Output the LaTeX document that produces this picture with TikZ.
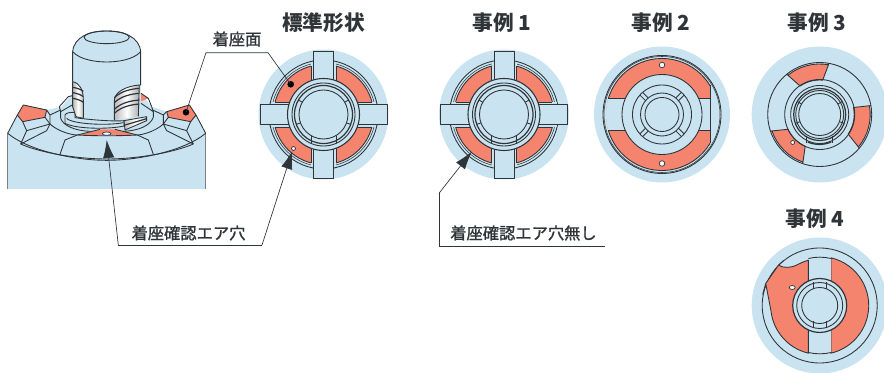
\documentclass[tikz,border=0pt]{standalone}
\usepackage{fontspec}
\setmainfont{Noto Sans CJK JP}
\newfontfamily\labfont[FakeBold=1.2]{Noto Sans CJK JP}
\usetikzlibrary{arrows.meta}
\definecolor{pale}{HTML}{C9E3F0}
\definecolor{seat}{HTML}{F5846F}
\definecolor{ink}{HTML}{2E3438}
\tikzset{
 ln/.style={draw=ink,line width=0.65pt,line join=round},
 thin ln/.style={draw=ink,line width=0.4pt},
 bluef/.style={fill=pale},
 seatf/.style={fill=seat},
 hole/.style={fill=white!70!pale,draw=ink,line width=0.5pt},
 title/.style={font=\bfseries\fontsize{15.5pt}{18pt}\selectfont,inner sep=0pt,text=ink},
 lab/.style={font=\labfont\fontsize{12.2pt}{14pt}\selectfont,inner sep=0pt,text=ink},
 leader/.style={draw=ink,line width=0.5pt},
 tip/.style={leader,-{Latex[length=13.5pt,width=8.5pt]}},
 metal/.style={left color=gray!70,right color=gray!45,middle color=white,draw=ink,line width=0.5pt}
}
% cross-shaped seat used by the standard form and case 1
\newcommand{\crossview}[2]{%
 \begin{scope}[shift={(#1,#2)}]
 \fill[pale] (0,0) circle[radius=65];
 \draw[ln] (0,0) circle[radius=54.5];
 \draw[thin ln] (0,0) circle[radius=52];
 \fill[seat] (0,0) circle[radius=50];
 \draw[ln] (0,0) circle[radius=50];
 \fill[pale] (-12.5,-52.5) rectangle (12.5,52.5);
 \fill[pale] (-52.5,-12.5) rectangle (52.5,12.5);
 \foreach \a in {0,90,180,270}{
  \begin{scope}[rotate=\a]
   \draw[ln] (12.5,-48.4) -- (12.5,-12.5) -- (48.4,-12.5);
   \draw[ln,bluef] (-10,-30) -- (-10,-63.5) -- (10,-63.5) -- (10,-30) -- cycle;
  \end{scope}}
 \draw[ln,bluef,line width=0.8pt] (0,0) circle[radius=36];
 \draw[ln] (0,0) circle[radius=31.5];
 \draw[ln,line width=0.9pt] (0,0) circle[radius=29];
 \draw[ln] (0,0) circle[radius=24.5];
 \foreach \a in {-150,-30,160,20}{\draw[ln] (\a:24.5) -- (\a:29);}
 \draw[ln] (-12.5,21.5) -- (-12.5,29) (12.5,21.5) -- (12.5,29);
 \end{scope}}
\begin{document}
\begin{tikzpicture}[x=0.75pt,y=-0.75pt]
\useasboundingbox (0,0) rectangle (884,373);

% ---- perspective view (coordinates in 1/3 px)
\begin{scope}[x=0.25pt,y=-0.25pt]
 \fill[pale] (23,567) -- (23,400) -- (52,345) -- (70,315) -- (140,330) -- (185,320) -- (215,285) -- (218,155)
   .. controls (222,110) and (270,93) .. (320,93) .. controls (370,93) and (418,110) .. (422,155)
   -- (422,280) -- (455,320) -- (500,335) -- (568,315) -- (588,345) -- (617,400) -- (617,567) -- cycle;
 \draw[ln,draw=gray] (23,567) -- (23,400);
 \draw[ln,draw=gray] (617,567) -- (617,400);
 \draw[ln] (23,400) -- (52,345) (617,400) -- (588,345);
 % seats
 \fill[seat] (70,315) -- (140,330) -- (135,352) -- (68,365) -- (52,345) -- cycle;
 \fill[seat] (500,335) -- (568,315) -- (588,345) -- (572,365) -- (505,352) -- cycle;
 \fill[seat] (232,405) -- (300,388) -- (345,388) -- (412,405) -- cycle;
 \fill[seat] (423,280) -- (445,295) -- (423,304) -- cycle;
 \draw[ln] (52,345) -- (70,315) -- (140,330) -- (135,352) -- (68,365) -- cycle;
 \draw[ln] (588,345) -- (568,315) -- (500,335) -- (505,352) -- (572,365) -- cycle;
 % facets left
 \draw[ln] (68,365) -- (80,392) -- (62,432);
 \draw[ln] (80,392) -- (150,372) -- (135,352);
 \draw[ln] (62,432) -- (140,392) -- (150,372);
 \draw[ln] (140,330) -- (150,345) -- (150,372);
 \draw[ln] (150,345) -- (182,330);
 % facets right
 \draw[ln] (572,365) -- (560,392) -- (580,432);
 \draw[ln] (560,392) -- (490,372) -- (505,352);
 \draw[ln] (580,432) -- (500,392) -- (490,372);
 \draw[ln] (500,335) -- (490,345) -- (490,372);
 \draw[ln] (490,345) -- (458,330);
 % front rim
 \draw[ln] (23,400) .. controls (90,455) and (230,481) .. (320,481) .. controls (410,481) and (550,455) .. (617,400);
 \draw[ln] (62,432) .. controls (120,458) and (230,477) .. (320,477) .. controls (410,477) and (520,458) .. (580,432);
 \draw[ln] (180,463) -- (195,420) -- (232,405);
 \draw[ln] (460,463) -- (445,420) -- (412,405);
 \draw[ln] (232,405) -- (300,388) (345,388) -- (412,405);
 \draw[ln] (232,405) .. controls (280,408) and (360,408) .. (412,405);
 % rings around hub
 \draw[ln] (150,372) .. controls (175,395) and (215,405) .. (232,405);
 \draw[ln] (490,372) .. controls (465,395) and (425,405) .. (412,405);
 \draw[ln] (182,355) .. controls (190,378) and (225,392) .. (270,394);
 \draw[ln] (460,352) .. controls (450,378) and (415,392) .. (370,394);
 \draw[ln] (178,320) -- (182,335) -- (182,355);
 \draw[ln] (455,320) -- (460,335) -- (460,352);
 \draw[ln] (178,320) -- (205,290) -- (225,285) (182,335) -- (220,313);
 \draw[ln] (455,320) -- (445,295) -- (423,280) (460,335) -- (423,310);
 \draw[ln,bluef] (195,370) -- (195,345) .. controls (198,338) and (210,337) .. (225,337) -- (225,353)
   .. controls (260,358) and (330,365) .. (372,362) -- (372,378) .. controls (330,388) and (230,388) .. (195,370) -- cycle;
 \draw[ln] (200,355) .. controls (215,372) and (320,378) .. (370,368);
 % hole
 \draw[hole] (320,401) ellipse[x radius=13,y radius=5];
 % shaft
 \fill[pale] (218,155) -- (218,250) -- (252,250) -- (252,350) -- (345,350) -- (345,285) -- (422,258) -- (422,155) -- cycle;
 \draw[ln] (218,245) -- (218,155) .. controls (222,110) and (270,93) .. (320,93)
   .. controls (370,93) and (418,110) .. (422,155) -- (422,256);
 \draw[ln] (218,155) .. controls (240,180) and (290,186) .. (320,186) .. controls (350,186) and (400,180) .. (422,155);
 \draw[ln] (320,112) ellipse[x radius=68,y radius=19];
 % left thread slot
 \shade[left color=gray!60,right color=gray!50,middle color=white] (218,245) .. controls (240,250) and (250,270) .. (250,300) -- (250,355) -- (228,350) -- (218,320) -- cycle;
 \draw[ln] (218,245) .. controls (240,250) and (250,270) .. (250,300) -- (250,355);
 \draw[ln] (218,245) -- (218,320) -- (228,350) -- (250,355);
 \foreach \y in {262,278,295}{\draw[ln,line width=0.9pt] (218,\y) .. controls (232,\y+2) and (244,\y+7) .. (250,\y+12);}
 % right thread slot
 \shade[left color=gray!55,right color=gray!65,middle color=white] (343,300) .. controls (345,275) and (380,258) .. (418,255) -- (415,349) -- (343,360) -- cycle;
 \draw[ln] (343,360) -- (343,300) .. controls (345,275) and (380,258) .. (418,255) -- (415,349);
 \foreach \y in {275,290,310,322}{\draw[ln,line width=0.9pt] (343,\y+18) .. controls (365,\y-3) and (395,\y-8) .. (418,\y-10);}
 % lower right cam
 \shade[left color=gray!50,right color=gray!30,middle color=white] (372,362) -- (440,350) -- (440,362) -- (375,390) -- cycle;
 \draw[ln] (372,362) -- (440,350) -- (440,362) -- (375,390) -- cycle;
 \draw[ln,line width=0.9pt] (372,376) -- (440,356);
\end{scope}

% ---- standard form and case 1
\crossview{323.5}{114.5}
\crossview{504}{114.5}
\draw[hole] (293.5,148.5) circle[radius=2];

% ---- case 2
\begin{scope}[shift={(662,114.5)}]
 \fill[pale] (0,0) circle[radius=68];
 \begin{scope}
  \clip (0,0) circle[radius=56];
  \fill[seat] (-56,-56) rectangle (48,56);
  \fill[pale] (-58,-16) rectangle (48,16);
 \end{scope}
 \draw[ln] (0,0) circle[radius=59];
 \draw[thin ln] (0,0) circle[radius=58];
 \draw[ln] (-163.4:56) arc[start angle=-163.4,end angle=-31,radius=56];
 \draw[ln] (31:56) arc[start angle=31,end angle=163.4,radius=56];
 \draw[ln] (48,-29) -- (48,29);
 \draw[ln] (-53.6,-16) -- (-37,-16) (-53.6,16) -- (-37,16);
 \draw[ln] (37,-16) -- (48,-16) (37,16) -- (48,16);
 \draw[ln,bluef] (0,0) circle[radius=40];
 \draw[ln] (0,0) circle[radius=29.5];
 \draw[ln] (0,0) circle[radius=21.5];
 \draw[ln] (0,0) circle[radius=17];
 \foreach \a in {45,135,225,315}{\draw[ln] (\a-5:21.5) -- ++(\a:8) (\a+5:21.5) -- ++(\a:8);}
 \draw[hole] (0,-49.5) circle[radius=2.8];
 \draw[hole] (0,49) circle[radius=2.8];
\end{scope}

% ---- case 3
\begin{scope}[shift={(819.7,114.5)}]
 \fill[pale] (0,0) circle[radius=68];
 \draw[seatf,ln] (-129:50.5) arc[start angle=-129,end angle=-80,radius=50.5] -- (-85:34.5) arc[start angle=-85,end angle=-124.5,radius=34.5] -- cycle;
 \draw[seatf,ln] (-10:50.5) arc[start angle=-10,end angle=40,radius=50.5] -- (34.5:34.5) arc[start angle=34.5,end angle=-11.7,radius=34.5] -- cycle;
 \draw[seatf,ln] (161:50.5) arc[start angle=161,end angle=109.4,radius=50.5] -- (114.5:35) arc[start angle=114.5,end angle=155,radius=35] -- cycle;
 \draw[ln] (0,0) circle[radius=52];
 \draw[ln] (-129:50.5) -- (-129:52) (-80:50.5) -- (-80:52) (-10:50.5) -- (-10:52) (40:50.5) -- (40:52) (161:50.5) -- (161:52) (109.4:50.5) -- (109.4:52);
 \draw[ln] (0,0) circle[radius=35];
 \draw[ln] (0,0) circle[radius=29];
 \draw[ln,line width=0.9pt] (0,0) circle[radius=26];
 \draw[ln] (0,0) circle[radius=24];
 \draw[ln] (0,0) circle[radius=21];
 \foreach \a in {-150,-30,160,20}{\draw[ln] (\a:21) -- (\a:26);}
 \draw[ln] (-13,22) -- (-13,29) (13,22) -- (13,29);
 \draw[ln,line width=1pt] (-12,27.5) arc[start angle=113,end angle=67,radius=30];
 \draw[hole] (-27,28) circle[radius=2];
\end{scope}

% ---- case 4
\begin{scope}[shift={(819.7,305.5)}]
 \fill[pale] (0,0) circle[radius=68];
 \draw[ln] (0,0) circle[radius=57.5];
 \draw[seatf,ln] (11.3,-47.7) arc[start angle=-76.7,end angle=76.7,radius=49] -- cycle;
 \draw[seatf,ln] (-11.3,47.7) arc[start angle=103.3,end angle=174,radius=49] -- (-54,-22) -- (-41.3,-40.3) .. controls (-36,-37) and (-28,-38) .. (-24,-40) .. controls (-20,-42) and (-16,-44) .. (-11.3,-45.3) -- cycle;
 \draw[ln] (-54,-22) -- (-57,-11) (-41.3,-40.3) -- (-36,-45);
 \fill[pale] (-10.9,-48) rectangle (10.9,48);
 \draw[ln] (-11.3,-47) arc[start angle=-103.4,end angle=-76.6,radius=49];
 \draw[ln] (-11.3,47) arc[start angle=103.4,end angle=76.6,radius=49];
 \draw[ln,bluef,line width=0.9pt] (0,0) circle[radius=27];
 \draw[ln] (0,0) circle[radius=23];
 \draw[ln] (0,0) circle[radius=18];
 \draw[ln] (-6.5,-23) -- (-6.5,-16) (6.5,-23) -- (6.5,-16);
 \draw[ln] (-6.5,23) -- (-6.5,16) (6.5,23) -- (6.5,16);
 \draw[hole] (-27.5,-18) ellipse[x radius=3,y radius=2];
\end{scope}

% ---- titles
\node[title] (t0) at (323.5,23) {標準形状};
\node[title] (t1) at (502,23) {事例 1};
\node[title] (t2) at (661,23) {事例 2};
\node[title] (t3) at (817,23) {事例 3};
\node[title] (t4) at (815,219) {事例 4};

% ---- labels and leaders
\node[lab] (seatlab) at (237,39) {着座面};
\node[lab] (airlab) at (188.5,233) {着座確認エア穴};
\node[lab] (noairlab) at (523.5,233) {着座確認エア穴無し};

\coordinate (j1) at (206,52.7);
\coordinate (j2) at (268,52.7);
\coordinate (d1) at (186,112.3);
\coordinate (d2) at (290.7,84.3);
\fill[black] (d1) circle[radius=3.3];
\fill[black] (d2) circle[radius=3.3];
\draw[leader] (d1) -- (j1) -- (j2) -- (d2);

\coordinate (a0) at (118.3,245);
\coordinate (a1) at (262,245);
\coordinate (ta) at (106.7,140);
\coordinate (tb) at (292.3,151);
\draw[tip] (a0) -- (ta);
\draw[tip] (a1) -- (tb);
\draw[leader] (a0) -- (a1);

\coordinate (b0) at (439,193.3);
\coordinate (b1) at (439,246.7);
\coordinate (b2) at (605,246.7);
\coordinate (tc) at (471.7,151.7);
\draw[tip] (b0) -- (tc);
\draw[leader] (b0) -- (b1) -- (b2);
\end{tikzpicture}
\end{document}
